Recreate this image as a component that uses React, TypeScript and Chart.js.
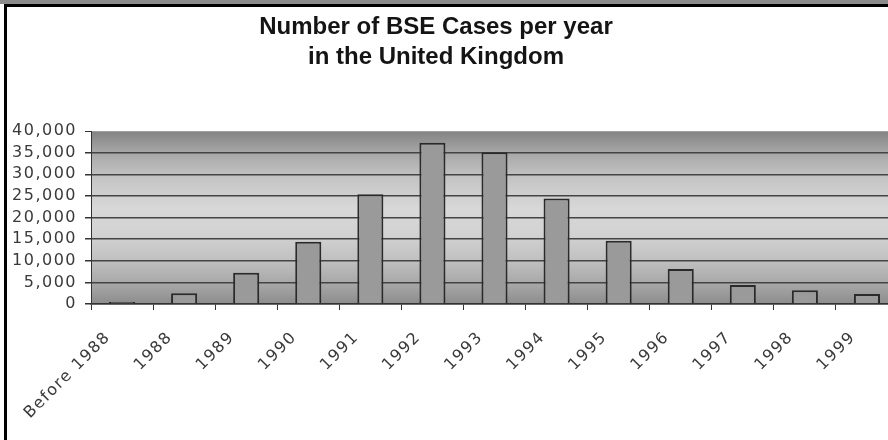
import React, { useEffect, useRef } from "react";
import { Chart, registerables } from "chart.js";

Chart.register(...registerables);

const categories = [
  "Before 1988",
  "1988",
  "1989",
  "1990",
  "1991",
  "1992",
  "1993",
  "1994",
  "1995",
  "1996",
  "1997",
  "1998",
  "1999",
];
const cases = [450, 2500, 7200, 14400, 25400, 37300, 35100, 24400, 14600, 8100, 4400, 3200, 2300];
const titleLines = ["Number of BSE Cases per year", "in the United Kingdom"];
const yMin = 0;
const yMax = 40000;
const yStep = 5000;

const framePlugin = {
  id: "frameAndBackground",
  beforeDraw(chart: any) {
    const { ctx, chartArea } = chart;
    const { left, top, right, bottom } = chartArea;
    ctx.save();
    const g = ctx.createLinearGradient(0, top, 0, bottom);
    g.addColorStop(0, "#828282");
    g.addColorStop(0.12, "#a6a6a6");
    g.addColorStop(0.27, "#c4c4c4");
    g.addColorStop(0.45, "#d8d8d8");
    g.addColorStop(0.6, "#d2d2d2");
    g.addColorStop(0.75, "#c0c0c0");
    g.addColorStop(0.9, "#a4a4a4");
    g.addColorStop(1, "#8c8c8c");
    ctx.fillStyle = g;
    ctx.fillRect(left, top, right - left, bottom - top);
    ctx.restore();
    ctx.letterSpacing = "1.5px";
  },
  afterDraw(chart: any) {
    const { ctx, width, height } = chart;
    ctx.save();
    ctx.letterSpacing = "0px";
    // outer frame
    ctx.fillStyle = "#8c8c8c";
    ctx.fillRect(0, 0, width, 4);
    ctx.fillStyle = "#000000";
    ctx.fillRect(4, 4, width, 3);
    ctx.fillRect(4, 4, 3, height);
    // title
    ctx.fillStyle = "#141414";
    ctx.font = "bold 24px 'Liberation Sans', Arial, sans-serif";
    ctx.textAlign = "center";
    ctx.textBaseline = "alphabetic";
    ctx.fillText(titleLines[0], 436, 34);
    ctx.fillText(titleLines[1], 436, 64);
    ctx.restore();
  },
};

export default function App() {
  const canvasRef = useRef<HTMLCanvasElement | null>(null);

  useEffect(() => {
    const canvas = canvasRef.current;
    if (!canvas) return;
    const chart = new Chart(canvas, {
      type: "bar",
      data: {
        labels: categories,
        datasets: [
          {
            data: cases,
            backgroundColor: "#9a9a9a",
            borderColor: "#2a2a2a",
            borderWidth: 2,
            barPercentage: 0.42,
            categoryPercentage: 1,
          },
        ],
      },
      options: {
        responsive: false,
        animation: false,
        devicePixelRatio: 1,
        layout: { padding: { top: 131, right: 2, left: 0, bottom: 0 } },
        plugins: {
          legend: { display: false },
          tooltip: { enabled: false },
          title: { display: false },
        },
        scales: {
          x: {
            offset: true,
            grid: {
              display: true,
              offset: true,
              drawOnChartArea: false,
              drawTicks: true,
              tickLength: 6,
              color: "#333333",
              lineWidth: 1,
            },
            border: { display: true, color: "#333333", width: 1.5 },
            ticks: {
              autoSkip: false,
              minRotation: 45,
              maxRotation: 45,
              padding: 18,
              labelOffset: -14,
              color: "#3a3a3a",
              font: { family: "'DejaVu Sans', sans-serif", size: 16 },
            },
            afterFit(scale: any) {
              scale.height = 136;
            },
          },
          y: {
            min: yMin,
            max: yMax,
            grid: {
              drawTicks: true,
              tickLength: 6,
              tickColor: "#333333",
              lineWidth: (c: any) => (c.tick && c.tick.value === yMax ? 1 : 1.5),
              color: (c: any) => (c.tick && c.tick.value === yMax ? "#a0a0a0" : "#444444"),
            },
            border: { display: true, color: "#333333", width: 1 },
            ticks: {
              autoSkip: false,
              stepSize: yStep,
              maxTicksLimit: 20,
              padding: 8,
              color: "#3a3a3a",
              font: { family: "'DejaVu Sans', sans-serif", size: 16, lineHeight: 1 },
              callback: (v: any) => Number(v).toLocaleString("en-US"),
            },
            afterFit(scale: any) {
              scale.width = 91;
            },
          },
        },
      },
      plugins: [framePlugin],
    });
    return () => chart.destroy();
  }, []);

  return (
    <div
      style={{
        position: "fixed",
        left: 0,
        top: 0,
        width: 888,
        height: 440,
        overflow: "hidden",
        background: "#ffffff",
      }}
    >
      <canvas ref={canvasRef} width={900} height={440} style={{ display: "block" }} />
    </div>
  );
}
